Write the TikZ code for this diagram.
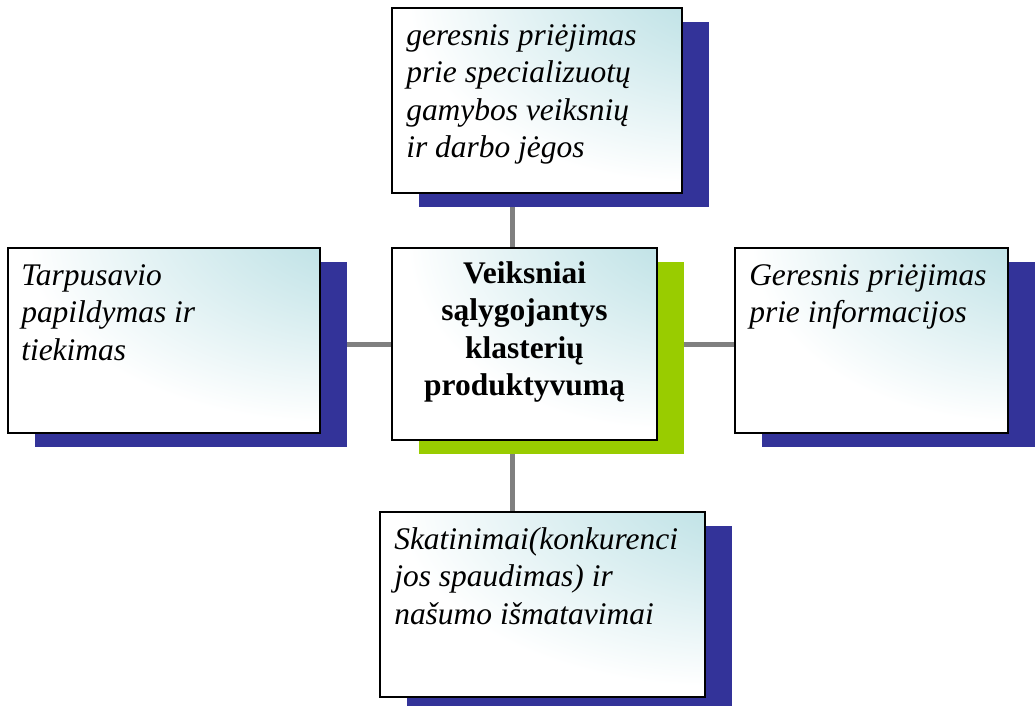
\documentclass[tikz,border=0pt]{standalone}
\usepackage{fontspec}
\setmainfont{Liberation Serif}
\usetikzlibrary{shadows,backgrounds}

\definecolor{boxcyan}{RGB}{176,219,224}
\definecolor{shadowblue}{RGB}{51,51,153}
\definecolor{shadowgreen}{RGB}{153,204,0}
\definecolor{linkgray}{RGB}{128,128,128}

\pgfdeclareradialshading{cornerglow}{\pgfpoint{50bp}{50bp}}{color(0bp)=(boxcyan); color(18bp)=(boxcyan!85!white); color(48bp)=(white); color(100bp)=(white)}

\tikzset{
	factor/.style={draw=black, line width=1.5pt, shade, shading=cornerglow, inner sep=0pt, minimum height=138.75pt,
		general shadow={fill=#1, shadow xshift=20.25pt, shadow yshift=-10.5pt}},
	factor/.default=shadowblue,
	factortext/.style={inner sep=0pt, anchor=north west, align=left, font=\fontsize{23.6}{28}\selectfont\itshape},
	coretext/.style={inner sep=0pt, anchor=north, align=center, font=\fontsize{23.6}{28}\selectfont\bfseries},
	link/.style={draw=linkgray, line width=3.75pt}
}

\begin{document}
\begin{tikzpicture}[x=0.75pt, y=-0.75pt]

	\useasboundingbox (0,0) rectangle (1035,706);

	% boxes
	\node[factor, minimum width=217.5pt] (top) at (537,100.5) {};
	\node[factor, minimum width=234pt] (left) at (164,340.5) {};
	\node[factor=shadowgreen, minimum width=198.75pt, minimum height=144pt] (core) at (524.5,344) {};
	\node[factor, minimum width=204.75pt] (right) at (871.5,340.5) {};
	\node[factor, minimum width=243.75pt] (bottom) at (542.5,604.5) {};

	% texts
	\node[factortext] (top-txt) at ([xshift=11.25pt,yshift=-9pt]top.north west) {\strut geresnis priėjimas\\ prie specializuotų\\ gamybos veiksnių\\ ir darbo jėgos};
	\node[factortext] (left-txt) at ([xshift=10.5pt,yshift=-9pt]left.north west) {\strut Tarpusavio\\ papildymas ir\\ tiekimas};
	\node[coretext] (core-txt) at ([yshift=-7.5pt]core.north) {\strut Veiksniai\\ sąlygojantys\\ klasterių\\ produktyvumą};
	\node[factortext] (right-txt) at ([xshift=11.25pt,yshift=-9pt]right.north west) {\strut Geresnis priėjimas\\ prie informacijos};
	\node[factortext] (bottom-txt) at ([xshift=11.25pt,yshift=-9pt]bottom.north west) {\strut Skatinimai(konkurenci\\ jos spaudimas) ir\\ našumo išmatavimai};

	% connectors
	\coordinate (hub) at (512,344);
	\begin{scope}[on background layer]
		\draw[link] (top.south -| hub) -- (core.north -| hub);
		\draw[link] (core.south -| hub) -- (bottom.north -| hub);
		\draw[link] (left.east |- hub) -- (core.west |- hub);
		\draw[link] (core.east |- hub) -- (right.west |- hub);
	\end{scope}

\end{tikzpicture}
\end{document}
